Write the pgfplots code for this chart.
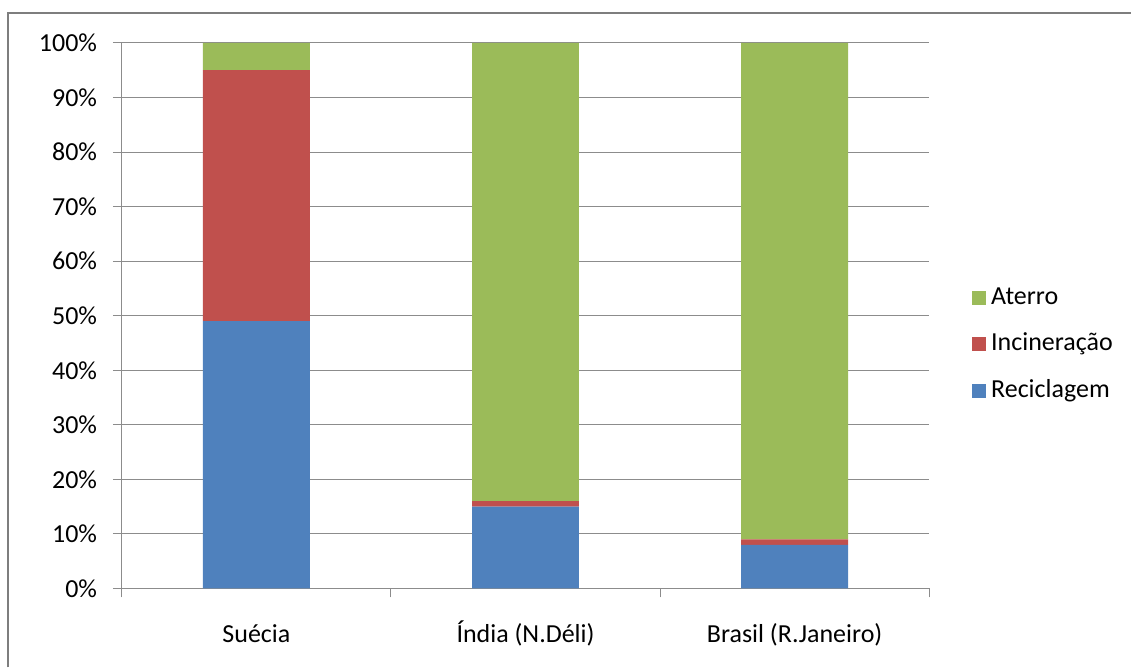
\documentclass[border=0pt]{standalone}
\usepackage{pgfplots}
\pgfplotsset{compat=1.18}
\usepackage{fontspec}
\setmainfont{Carlito}
\definecolor{cblue}{HTML}{4F81BD}
\definecolor{cred}{HTML}{C0504D}
\definecolor{cgreen}{HTML}{9BBB59}
\definecolor{cgrid}{HTML}{8C8C8C}
\begin{document}
\fontsize{26pt}{31pt}\selectfont
\begin{tikzpicture}
\path (0pt,0pt) rectangle (1132pt,668pt);
\draw[color=cgrid!90!black, line width=2pt] (8pt,0pt) -- (8pt,655pt) -- (1132pt,655pt);
\begin{axis}[
  at={(122pt,79pt)}, anchor=south west,
  scale only axis, width=808pt, height=546pt,
  ybar stacked, bar width=107pt,
  xmin=-0.5, xmax=2.5, ymin=0, ymax=100,
  xtick={-0.5,0.5,1.5,2.5},
  x tick label as interval,
  xticklabels={Suécia, Índia (N.Déli), Brasil (R.Janeiro)},
  ytick={0,10,...,100},
  yticklabel={\pgfmathprintnumber{\tick}\%},
  y tick label style={/pgf/number format/assume math mode=true},
  tick align=outside, major tick length=9pt,
  tick style={color=cgrid, line width=1pt},
  ymajorgrids, xmajorgrids=false, grid style={color=cgrid, line width=1pt},
  axis x line*=bottom, axis y line*=left,
  axis line style={color=cgrid, line width=1pt},
  tick label style={font=\fontsize{26pt}{31pt}\selectfont, text=black},
  xticklabel style={text height=19pt, text depth=6pt, yshift=-17pt},
  yticklabel style={xshift=-7pt},
  legend style={at={(1.053,0.447)}, anchor=west, draw=none, fill=none,
    font=\fontsize{26pt}{31pt}\selectfont, row sep=21pt, inner sep=0pt,
    /tikz/every even column/.append style={column sep=5pt}},
  legend cell align=left,
  reverse legend,
  legend image code/.code={\fill[#1] (0pt,-7pt) rectangle (14pt,7pt); \path (17pt,0pt);},
]
\addplot[fill=cblue, draw=none] coordinates {(0,49) (1,15) (2,8)};
\addplot[fill=cred, draw=none] coordinates {(0,46) (1,1) (2,1)};
\addplot[fill=cgreen, draw=none] coordinates {(0,5) (1,84) (2,91)};
\legend{Reciclagem, Incineração, Aterro}
\end{axis}
\end{tikzpicture}
\end{document}
